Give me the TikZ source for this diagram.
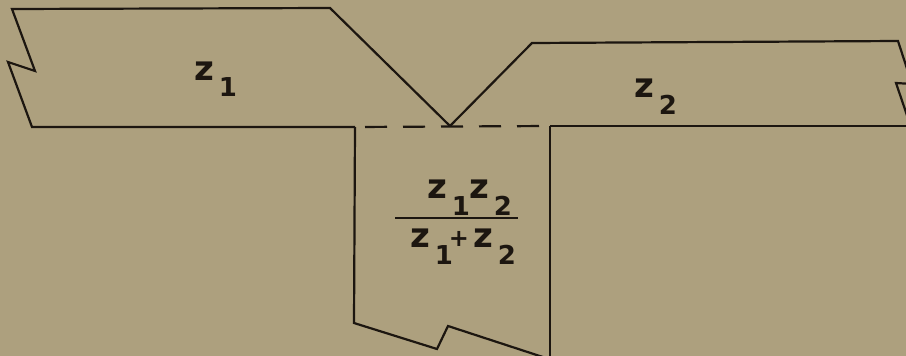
\documentclass[tikz,border=0pt]{standalone}
\usepackage{fontspec}
\setmainfont{DejaVu Sans}
\definecolor{paper}{RGB}{173,160,126}
\definecolor{ink}{RGB}{28,22,16}
\newcommand{\zterm}[1]{z\hspace{5pt}\raisebox{-17pt}{\fontsize{26}{30}\selectfont #1}}
\tikzset{
  edge/.style={draw=ink, line width=2.2pt, line join=miter},
  lbl/.style={text=ink, inner sep=0pt, anchor=base west, font=\fontsize{34}{38}\selectfont\bfseries},
}
\begin{document}
\begin{tikzpicture}[x=1pt,y=-1pt]
\fill[paper] (0,0) rectangle (906,356);
\useasboundingbox (0,0) rectangle (906,356);
\begin{scope}
\clip (0,0) rectangle (906,356);
% left strip
\coordinate (a1) at (12,9);
\coordinate (a2) at (330,8);
\coordinate (v) at (450,126);
\coordinate (a3) at (355,127);
\coordinate (a4) at (32,127);
\coordinate (a5) at (8,62);
\coordinate (a6) at (35,71);
\draw[edge] (a3) -- (a4) -- (a5) -- (a6) -- (a1) -- (a2) -- (v);
% right strip
\coordinate (b1) at (532,43);
\coordinate (b2) at (898,41);
\coordinate (b3) at (912,84);
\coordinate (b4) at (896,83);
\coordinate (b5) at (912,130);
\coordinate (b6) at (550,126);
\draw[edge] (v) -- (b1) -- (b2) -- (b3);
\draw[edge] (b3) -- (b4) -- (b5);
\draw[edge] (912,126) -- (b6);
% central box
\coordinate (c1) at (354,323);
\coordinate (c2) at (437,349);
\coordinate (c3) at (448,326);
\coordinate (c4) at (552,360);
\draw[edge] (a3) -- (c1) -- (c2) -- (c3) -- (c4);
\draw[edge] (b6) -- (550,360);
% dashed junction
\draw[edge, dash pattern=on 22pt off 16pt, dash phase=-10pt] (a3) -- (b6);
\end{scope}
% labels
\node[lbl] (z1) at (194,80) {\zterm{1}};
\node[lbl] (z2) at (634,97) {\zterm{2}};
\node[lbl] (n1) at (427,198) {\zterm{1}};
\node[lbl] (n2) at (469,198) {\zterm{2}};
\draw[draw=ink, line width=2.6pt] (395,218) -- (518,218);
\node[lbl] (d1) at (410,247) {\zterm{1}};
\node[text=ink, inner sep=0pt, font=\fontsize{24}{28}\selectfont\bfseries] (pl) at (459,239) {+};
\node[lbl] (d2) at (473,247) {\zterm{2}};
\end{tikzpicture}
\end{document}
